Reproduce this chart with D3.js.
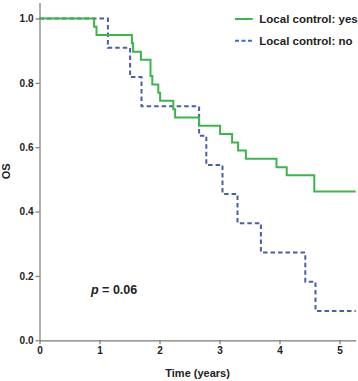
<!DOCTYPE html>
<html>
<head>
<meta charset="utf-8">
<script src="https://cdn.jsdelivr.net/npm/d3@7"></script>
<style>
  body { margin: 0; background: #fff; }
  svg { display: block; font-family: "Liberation Sans", Arial, sans-serif; }
  .axis path, .axis line { stroke: #7a7a7a; stroke-width: 1.2; }
  .axis text { font-weight: bold; font-size: 10px; fill: #222; }
</style>
</head>
<body>
<div id="chart"></div>
<script>
// Kaplan-Meier steps: time of each drop (years) and survival after it
const yesTimes = [0.91, 0.95, 1.54, 1.56, 1.69, 1.85, 1.88, 1.98, 2.01, 2.23, 2.26, 2.66, 3.01, 3.21, 3.31, 3.44, 3.95, 4.12, 4.58];
const yesSurv  = [0.974, 0.949, 0.923, 0.897, 0.872, 0.821, 0.795, 0.769, 0.744, 0.718, 0.692, 0.667, 0.641, 0.615, 0.590, 0.564, 0.538, 0.513, 0.462];
const noTimes  = [1.14, 1.51, 1.70, 2.66, 2.78, 3.05, 3.30, 3.69, 4.43, 4.60];
const noSurv   = [0.909, 0.818, 0.727, 0.636, 0.545, 0.455, 0.364, 0.273, 0.182, 0.091];
const followUpEnd = 5.27;
const xTicks = [0, 1, 2, 3, 4, 5];
const yTicks = [0.0, 0.2, 0.4, 0.6, 0.8, 1.0];
const legendLabels = ["Local control: yes", "Local control: no"];

const W = 358, H = 381;
const margin = {top: 2.4, right: 2.3, bottom: 40.7, left: 39.5};

const svg = d3.select("#chart").append("svg")
  .attr("width", W)
  .attr("height", H);

const x = d3.scaleLinear()
  .domain([0, followUpEnd])
  .range([margin.left, W - margin.right]);

const y = d3.scaleLinear()
  .domain([0, 1.05])
  .range([H - margin.bottom, margin.top]);

// axes
svg.append("g")
  .attr("class", "axis")
  .attr("transform", "translate(0," + (H - margin.bottom) + ")")
  .call(d3.axisBottom(x).tickValues(xTicks).tickSize(4).tickSizeOuter(0).tickPadding(3).tickFormat(d3.format("d")));

svg.append("g")
  .attr("class", "axis")
  .attr("transform", "translate(" + margin.left + ",0)")
  .call(d3.axisLeft(y).tickValues(yTicks).tickSize(4).tickSizeOuter(0).tickPadding(2).tickFormat(d3.format(".1f")));

// build step curve points
function kmPoints(times, surv) {
  const pts = [[0, 1]];
  times.forEach(function(t, i) { pts.push([t, surv[i]]); });
  pts.push([followUpEnd, surv[surv.length - 1]]);
  return pts;
}

const line = d3.line()
  .x(function(d) { return x(d[0]); })
  .y(function(d) { return y(d[1]); })
  .curve(d3.curveStepAfter);

svg.append("path")
  .datum(kmPoints(noTimes, noSurv))
  .attr("fill", "none")
  .attr("stroke", "#4a5ea8")
  .attr("stroke-width", 2)
  .attr("stroke-dasharray", "4.5,3")
  .attr("d", line);

svg.append("path")
  .datum(kmPoints(yesTimes, yesSurv))
  .attr("fill", "none")
  .attr("stroke", "#3db54a")
  .attr("stroke-width", 2)
  .attr("d", line);

// legend
const legend = svg.append("g").attr("transform", "translate(235,19)");
legend.append("line")
  .attr("x1", 0).attr("x2", 17.7).attr("y1", 0).attr("y2", 0)
  .attr("stroke", "#3db54a").attr("stroke-width", 2);
legend.append("line")
  .attr("x1", 0).attr("x2", 17.7).attr("y1", 21.7).attr("y2", 21.7)
  .attr("stroke", "#2f6fd0").attr("stroke-width", 2).attr("stroke-dasharray", "4,2.5");
legend.selectAll("text.lg")
  .data(legendLabels)
  .enter().append("text")
  .attr("class", "lg")
  .attr("x", 24.3)
  .attr("y", function(d, i) { return i * 21.7 + 4; })
  .style("font-size", "11.5px")
  .style("font-weight", "bold")
  .style("fill", "#222")
  .text(function(d) { return d; });

// p value
const pText = svg.append("text")
  .attr("x", 91)
  .attr("y", 293.5)
  .style("font-size", "12.5px")
  .style("font-weight", "bold")
  .style("fill", "#222");
pText.append("tspan").style("font-style", "italic").text("p");
pText.append("tspan").text(" = 0.06");

// axis titles
svg.append("text")
  .attr("x", (margin.left + W - margin.right) / 2)
  .attr("y", 377)
  .attr("text-anchor", "middle")
  .style("font-size", "11px")
  .style("font-weight", "bold")
  .style("fill", "#222")
  .text("Time (years)");

svg.append("text")
  .attr("transform", "translate(10," + ((margin.top + H - margin.bottom) / 2) + ") rotate(-90)")
  .attr("text-anchor", "middle")
  .style("font-size", "11px")
  .style("font-weight", "bold")
  .style("fill", "#222")
  .text("OS");
</script>
</body>
</html>
